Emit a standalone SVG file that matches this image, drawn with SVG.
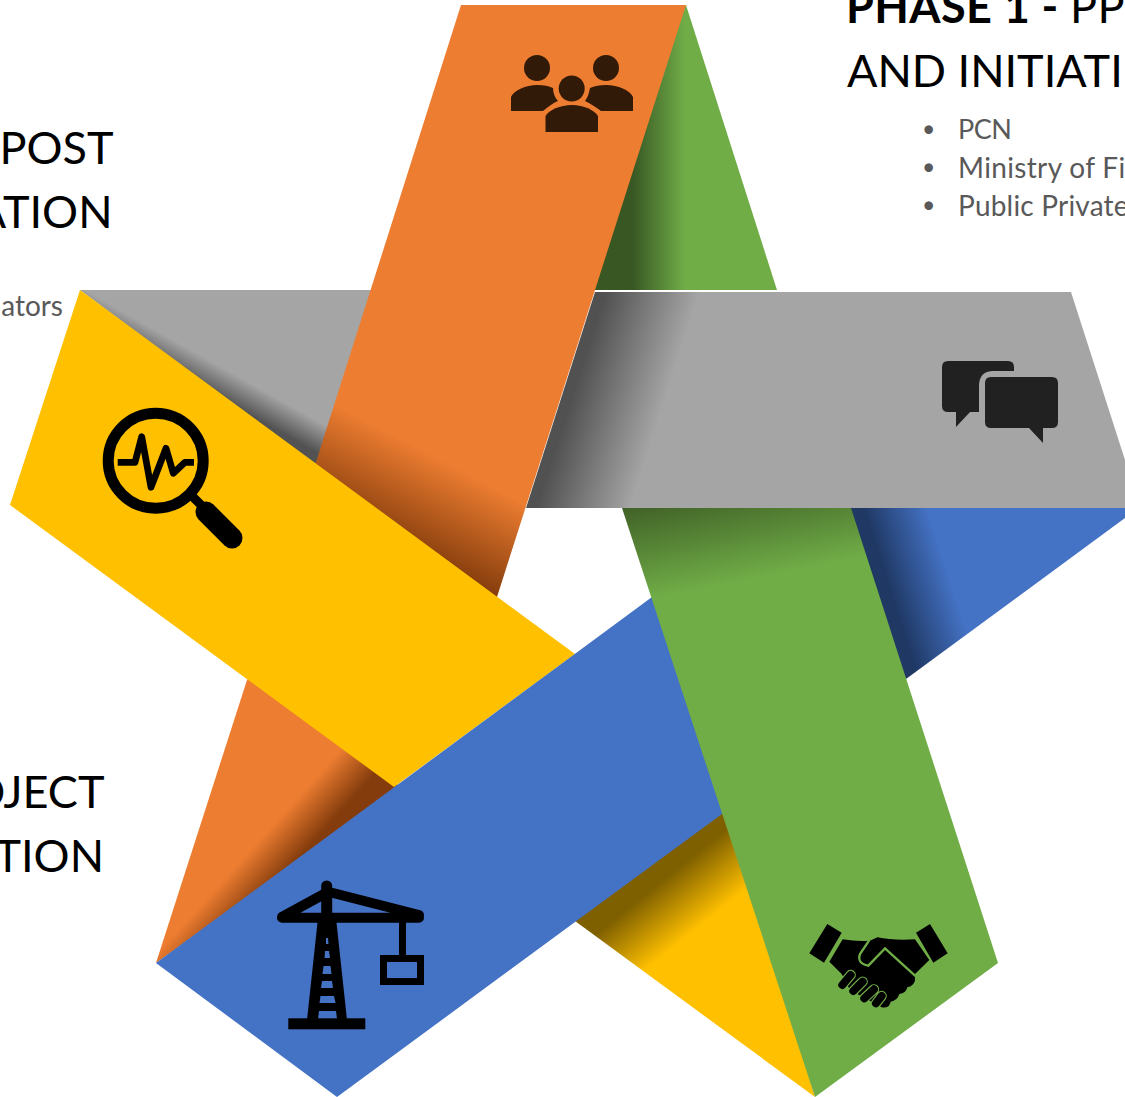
<svg xmlns="http://www.w3.org/2000/svg" width="1125" height="1097" viewBox="0 0 1125 1097">
<style>
.h{font-family:Lato,"Liberation Sans",sans-serif;font-size:45px;fill:#000}
.b{font-weight:700}
.t{font-family:Lato,"Liberation Sans",sans-serif;font-size:28px;fill:#595959}
.d{font-family:Lato,"Liberation Sans",sans-serif;font-size:23px;fill:#595959}
</style>
<defs>
<linearGradient id="gGrayMain" gradientUnits="userSpaceOnUse" x1="595" y1="292" x2="690" y2="322.5"><stop offset="0.1" stop-color="#515151"/><stop offset="1" stop-color="#a5a5a5"/></linearGradient>
<linearGradient id="gGrayTip" gradientUnits="userSpaceOnUse" x1="317" y1="453" x2="331" y2="428"><stop offset="0" stop-color="#525252"/><stop offset="1" stop-color="#a5a5a5"/></linearGradient>
<linearGradient id="gGreenTip" gradientUnits="userSpaceOnUse" x1="632" y1="0" x2="685" y2="0"><stop offset="0" stop-color="#385723"/><stop offset="1" stop-color="#70ad47"/></linearGradient>
<linearGradient id="gGreenMain" gradientUnits="userSpaceOnUse" x1="622" y1="505" x2="641" y2="601"><stop offset="0" stop-color="#3f5f26"/><stop offset="1" stop-color="#70ad47"/></linearGradient>
<linearGradient id="gOrangeMain" gradientUnits="userSpaceOnUse" x1="333" y1="403" x2="288" y2="489"><stop offset="0" stop-color="#ed7d31"/><stop offset="1" stop-color="#843c0c"/></linearGradient>
<linearGradient id="gOrangeTip" gradientUnits="userSpaceOnUse" x1="280" y1="817" x2="311" y2="845"><stop offset="0" stop-color="#ed7d31"/><stop offset="1" stop-color="#843c0c"/></linearGradient>
<linearGradient id="gYellowTip" gradientUnits="userSpaceOnUse" x1="713" y1="840" x2="750" y2="886"><stop offset="0" stop-color="#7f6000"/><stop offset="1" stop-color="#ffc000"/></linearGradient>
<linearGradient id="gBlueTip" gradientUnits="userSpaceOnUse" x1="863" y1="508" x2="921" y2="489.4"><stop offset="0" stop-color="#1f3864"/><stop offset="1" stop-color="#4472c4"/></linearGradient>
</defs>

<g id="texts">
<text class="h b" x="846" y="23" letter-spacing=".4">PHASE 1 - <tspan font-weight="400">PP</tspan></text>
<text class="h" x="847" y="87">AND INITIATI</text>
<text class="d" x="922" y="137">•</text><text class="t" x="958" y="139" font-size="27" letter-spacing="-.5" style="font-size:27px">PCN</text>
<text class="d" x="922" y="175">•</text><text class="t" x="958" y="177.500" letter-spacing=".35">Ministry of Fi</text>
<text class="d" x="922" y="213">•</text><text class="t" x="958" y="215.500" letter-spacing=".2">Public Private</text>
<text class="h" x="113.500" y="164" text-anchor="end">POST</text>
<text class="h" x="112.500" y="228" text-anchor="end">ATION</text>
<text class="t" x="63" y="316" text-anchor="end">ators</text>
<text class="h" x="104.500" y="808" text-anchor="end">OJECT</text>
<text class="h" x="104" y="872" text-anchor="end">TION</text>
</g>

<g id="folds">
<polygon id="fold-gray" points="80,290 371,290 373,300 320,470" fill="url(#gGrayTip)"/>
<polygon id="fold-green" points="680,5 686,5 777,290 590,290" fill="url(#gGreenTip)"/>
<polygon id="fold-blue" points="845,508 1125,508 1125,518 906,679 900,680" fill="url(#gBlueTip)"/>
<polygon id="fold-yellow" points="575,921 570,915 715,808 730,814 815,1097" fill="url(#gYellowTip)"/>
<polygon id="fold-orange" points="247,680 250,676 398,785 394,792 156,963" fill="url(#gOrangeTip)"/>
</g>

<g id="bands">
<polygon id="band-orange" points="461,5 686,5 497,597 494,601 313,466 316,462" fill="url(#gOrangeMain)"/>
<polygon id="band-yellow" points="80,290 575,654 394,787 10,505" fill="#ffc000"/>
<polygon id="band-blue" points="652,597 658,592.600 728,809.600 722,814 337,1097 156,963" fill="#4472c4"/>
<polygon id="band-green" points="622,508 851,508 998,963 815,1097" fill="url(#gGreenMain)"/>
<polygon id="band-gray" points="595,292 1071,292 1125,460 1125,508 526,508" fill="url(#gGrayMain)"/>
</g>

<g id="icon-people" fill="#321a08">
<circle cx="537" cy="68" r="13"/><circle cx="606" cy="68" r="13"/><circle cx="571.700" cy="88.500" r="13"/>
<path d="M511,111V97C514,90 526,85 537,85C544,85 549,86 553,88C553,93 555,98 558,101C553,103 548,107 543,111Z"/>
<path d="M633,111V97C630,90 618,85 606,85C600,85 594,86 590,88C589,93 588,97 585,101C591,104 596,107 601,111Z"/>
<path d="M545.500,132V116C549,110 560,105 572,105C584,105 594,110 598,116V132Z"/>
</g>

<g id="icon-chat" fill="#212121">
<path d="M948,361H1008Q1014,361 1014,367V371H992Q979,372 979,386V412H970L956,427V412H948Q942,412 942,406V367Q942,361 948,361Z"/>
<path d="M991,377H1052Q1058,377 1058,383V422Q1058,428 1052,428H1043V443L1029,428H991Q985,428 985,422V383Q985,377 991,377Z"/>
</g>

<g id="icon-magnifier" fill="none" stroke="#000">
<circle cx="155.700" cy="460.700" r="47.500" stroke-width="11"/>
<path d="M117.700,462.300H135L141.700,436.700L151,487.300L166,448.300L173.300,473.300L185,462.300H194" stroke-width="6.700" stroke-linejoin="round"/>
<path d="M191,495L206,510" stroke-width="9"/>
<path d="M206,512L232,538" stroke-width="21" stroke-linecap="round"/>
</g>

<g id="icon-crane">
<path d="M326.700,886V925" stroke="#000" stroke-width="11" stroke-linecap="round"/>
<path d="M282,917.700H419M326,893L282,917M333,893L419,915" stroke="#000" stroke-width="10" stroke-linecap="round" fill="none"/>
<path fill-rule="evenodd" d="M318,918H336L347,1020H307ZM326,938H328L328.500,944H326ZM325,951H329L330,958H324.500ZM323.500,966H330.500L331.500,974H322.500ZM322,981H332L333,988H321ZM320.500,996H334L335.500,1003H319.500ZM319,1011H336L337,1019H318Z"/>
<rect x="288.300" y="1018.300" width="77" height="11"/>
<rect x="399" y="917" width="7" height="40"/>
<rect x="383.500" y="958.500" width="37" height="23" fill="none" stroke="#000" stroke-width="7"/>
</g>

<g id="icon-handshake" transform="translate(800 910) scale(.3333)">
<polygon points="82,42 125,68 72,158 28,130"/>
<polygon points="390,42 348,68 400,158 443,130"/>
<path d="M128,88Q170,95 210,92L232,82Q280,92 345,88L388,150L345,192V212Q340,228 322,232Q318,250 298,252Q292,272 272,275Q268,296 245,292L150,240L125,192L88,155Z"/>
<g fill="none" stroke-linecap="round">
<g stroke="#70ad47" stroke-width="31">
<path d="M127,225L152,195M160,243L188,215M193,265L222,238M228,280L245,258"/>
</g>
<g stroke="#000" stroke-width="24">
<path d="M127,225L152,195M160,243L188,215M193,265L222,238M228,280L245,258"/>
</g>
<path d="M207,92L180,132Q170,160 205,167L255,115L345,197" stroke="#70ad47" stroke-width="7"/>
</g>
</g>
</svg>
